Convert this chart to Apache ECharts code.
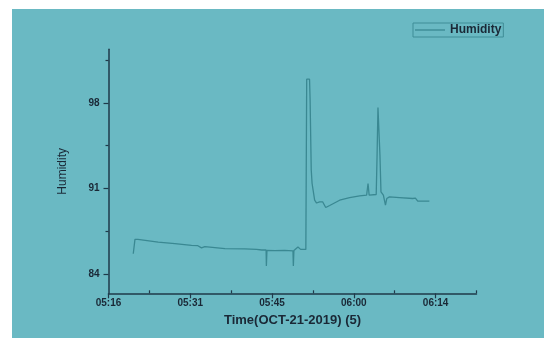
<!DOCTYPE html>
<html>
<head>
<meta charset="utf-8">
<script src="https://cdn.jsdelivr.net/npm/echarts@6/dist/echarts.min.js"></script>
<style>
html,body{margin:0;padding:0;background:#fff;}
#bg{position:absolute;left:12px;top:9px;width:532px;height:329px;background:#6ab9c3;}
#chart{position:absolute;left:0;top:0;width:544px;height:340px;}
</style>
</head>
<body>
<div id="bg"></div>
<div id="chart"></div>
<script>
// time in minutes since midnight
var times = [321.16,321.46,321.98,325.55,328.49,331.42,332.53,333.18,333.76,337.3,340.8,342.85,343.8,344.55,344.6,344.7,346.06,347.8,349.28,349.35,349.45,350.16,350.63,351.55,351.7,352.2,352.3,352.5,352.65,353.1,353.44,353.97,354.5,355.05,355.75,357.5,359.26,361.02,362.25,362.5,362.7,363.94,364.1,364.25,364.4,364.6,364.78,365.2,365.57,365.8,366.28,368.04,370.37,370.84,371.25,373.3];
var humidity = [85.64,86.82,86.82,86.6,86.47,86.33,86.3,86.12,86.22,86.06,86.04,86.0,85.95,85.95,84.63,85.92,85.9,85.92,85.88,84.63,85.9,86.19,86.0,86.0,99.95,99.95,98.25,92.5,91.4,90.03,89.8,89.9,89.9,89.43,89.6,90.03,90.25,90.38,90.44,91.4,90.44,90.5,93.87,97.62,97.62,93.7,90.71,90.44,89.62,90.17,90.3,90.25,90.17,90.2,89.95,89.95];
var xMajorTicks = [316.8,331.2,345.6,360,374.4];
var xMinorTicks = [324,338.4,352.8,367.2,381.6];
var yMajorTicks = [84,91,98];
var yMinorTicks = [87.5,94.5,101.5];

var pts = times.map(function(t,i){return [t, humidity[i]];});
var axisColor = '#1f3a4a';
var labelColor = '#1a2836';
function fmt(v){
  var m = Math.floor(v + 1e-6);
  var h = Math.floor(m/60), mm = m % 60;
  return (h<10?'0':'')+h+':'+(mm<10?'0':'')+mm;
}
var chart = echarts.init(document.getElementById('chart'));
chart.setOption({
  backgroundColor: 'transparent',
  animation: false,
  grid: {left: 108.5, right: 67.5, top: 49.3, bottom: 46.7},
  legend: {
    left: 413, top: 23,
    data: [{name: 'Humidity', icon: 'rect'}],
    borderColor: '#3f8d97', borderWidth: 1,
    padding: [1, 2, 1, 2],
    itemWidth: 30, itemHeight: 1.3, itemGap: 5,
    textStyle: {fontFamily: 'Liberation Sans', fontWeight: 'bold', fontSize: 12, color: labelColor}
  },
  xAxis: [{
    type: 'value', min: 316.8, max: 381.6,
    name: 'Time(OCT-21-2019) (5)', nameLocation: 'middle', nameGap: 21,
    nameTextStyle: {fontFamily: 'Liberation Sans', fontWeight: 'bold', fontSize: 13, color: labelColor},
    axisLine: {show: true, onZero: false, lineStyle: {color: axisColor, width: 1.5}},
    axisTick: {show: true, length: 5, customValues: xMajorTicks, lineStyle: {color: axisColor, width: 1.2}},
    axisLabel: {customValues: xMajorTicks, formatter: fmt, margin: 5, fontFamily: 'Liberation Sans', fontWeight: 'bold', fontSize: 10, color: labelColor},
    splitLine: {show: false}
  }, {
    type: 'value', min: 316.8, max: 381.6, position: 'bottom', offset: 0,
    axisLine: {show: false},
    axisTick: {show: true, inside: true, length: 3, customValues: xMinorTicks, lineStyle: {color: axisColor, width: 1.2}},
    axisLabel: {show: false},
    splitLine: {show: false}
  }],
  yAxis: [{
    type: 'value', min: 82.4, max: 102.4,
    name: 'Humidity', nameLocation: 'middle', nameGap: 40,
    nameTextStyle: {fontFamily: 'Liberation Sans', fontSize: 12, color: labelColor},
    axisLine: {show: true, onZero: false, lineStyle: {color: axisColor, width: 1.5}},
    axisTick: {show: true, length: 5, customValues: yMajorTicks, lineStyle: {color: axisColor, width: 1.2}},
    axisLabel: {customValues: yMajorTicks, margin: 9, fontFamily: 'Liberation Sans', fontWeight: 'bold', fontSize: 10, color: labelColor},
    splitLine: {show: false}
  }, {
    type: 'value', min: 82.4, max: 102.4, position: 'left', offset: 0,
    axisLine: {show: false},
    axisTick: {show: true, length: 3, customValues: yMinorTicks, lineStyle: {color: axisColor, width: 1.2}},
    axisLabel: {show: false},
    splitLine: {show: false}
  }],
  series: [{
    name: 'Humidity', type: 'line', data: pts,
    xAxisIndex: 0, yAxisIndex: 0,
    symbol: 'none', smooth: false,
    lineStyle: {color: '#3a8892', width: 1.3},
    itemStyle: {color: '#3a8892'}
  }]
});
</script>
</body>
</html>
